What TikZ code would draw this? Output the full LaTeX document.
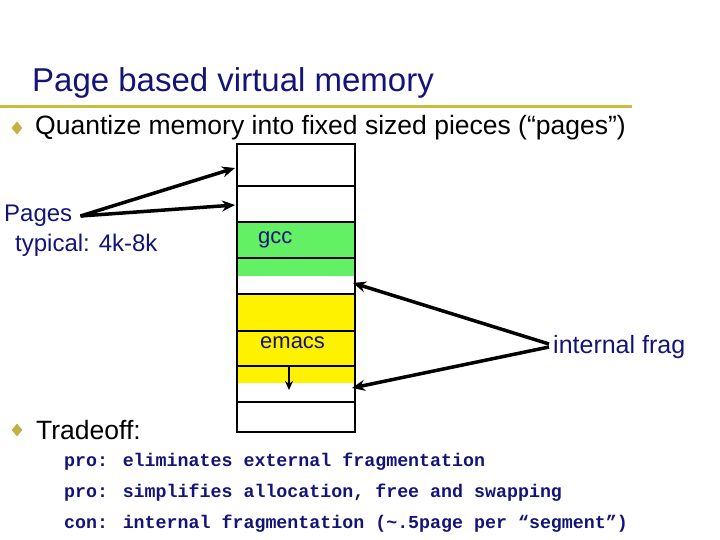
\documentclass[tikz,border=0pt]{standalone}
\usepackage{fontspec}
\setmainfont{Liberation Sans}
\newfontfamily\monofont{Liberation Mono}
\usetikzlibrary{shapes.geometric,arrows.meta}
\definecolor{navy}{RGB}{20,20,120}
\definecolor{gold}{RGB}{200,190,60}
\definecolor{olive}{RGB}{190,180,70}
\definecolor{gr}{RGB}{100,240,100}
\begin{document}
\begin{tikzpicture}[x=1pt,y=-1pt,
  cell/.style={draw,line width=2.5pt},
  arr/.style={-{Stealth[length=13pt,width=11pt]},line width=3.5pt},
  bul/.style={diamond,fill=olive,inner sep=0pt,minimum width=11pt,minimum height=13pt},
  lbl/.style={inner sep=0pt,anchor=west,text=navy}]
\useasboundingbox (0,0) rectangle (720,540);
\node[lbl,text=navy,font=\fontsize{33}{35}\selectfont] (title) at (32,83) {Page based virtual memory};
\draw[gold,line width=3pt] (0,107) -- (632,107);
\node[bul] (b1) at (17,128) {};
\node[lbl,text=black,font=\fontsize{26.5}{28}\selectfont] (q) at (35,128) {Quantize memory into fixed sized pieces (“pages”)};
\fill[gr] (237,222) rectangle (355,276);
\fill[yellow] (237,294) rectangle (355,383);
\draw[cell] (237,144) rectangle (355,432);
\foreach \y in {186,222,258,294,331,366,402} \draw[line width=2.5pt] (237,\y) -- (355,\y);
\node[lbl,font=\fontsize{22}{24}\selectfont] (gcc) at (258,240) {gcc};
\node[lbl,font=\fontsize{22}{24}\selectfont] (emacs) at (260,343) {emacs};
\coordinate (d1) at (289,366); \coordinate (d2) at (289,390);
\draw[-{Stealth[length=9pt,width=8pt]},line width=2pt] (d1) -- (d2);
\node[lbl,font=\fontsize{24}{26}\selectfont] (pages) at (4,216) {Pages};
\node[lbl,font=\fontsize{24}{26}\selectfont] (typ) at (15,245) {typical: 4k-8k};
\coordinate (p1) at (235,168); \coordinate (p2) at (235,205);
\draw[arr] (pages.east) ++(8,0) coordinate (ps) -- (p1);
\draw[arr] (ps) -- (p2);
\node[lbl,font=\fontsize{25}{27}\selectfont] (frag) at (553,347) {internal frag};
\coordinate (f1) at (353,283); \coordinate (f2) at (352,388);
\draw[arr] (frag.west) ++(-4,-3) -- (f1);
\draw[arr] (frag.west) ++(-4,0) -- (f2);
\node[bul] (b2) at (17,430) {};
\node[lbl,text=black,font=\fontsize{26.5}{28}\selectfont] (trade) at (36,430) {Tradeoff:};
\begin{scope}[font=\monofont\bfseries\fontsize{18.3}{20}\selectfont]
\node[lbl] (l1) at (64,462) {pro: eliminates external fragmentation};
\node[lbl] (l2) at (64,493) {pro: simplifies allocation, free and swapping};
\node[lbl] (l3) at (64,524) {con: internal fragmentation (\textasciitilde.5page per “segment”)};
\end{scope}
\end{tikzpicture}
\end{document}
